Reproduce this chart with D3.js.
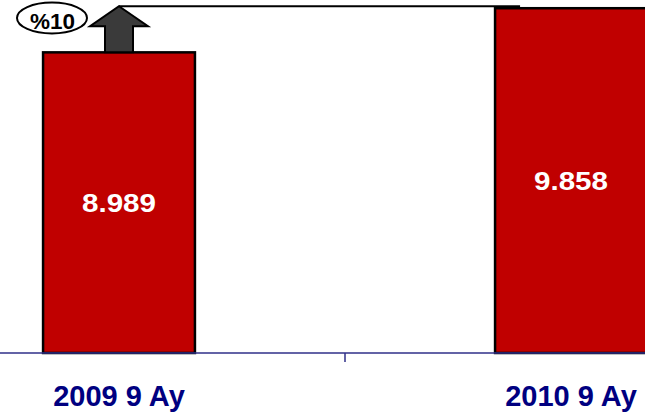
<!doctype html>
<html lang="tr">
<head>
<meta charset="UTF-8">
<title>2009 - 2010 9 Ay</title>
<script src="https://cdn.jsdelivr.net/npm/d3@7"></script>
<style>
  html, body { margin: 0; padding: 0; background: #fff; overflow: hidden; }
  svg { display: block; }
</style>
</head>
<body>
<script>
  var width = 645;
  var height = 417;

  // data
  var categories = ["2009 9 Ay", "2010 9 Ay"];
  var values = [8.989, 9.858];
  var valueLabels = ["8.989", "9.858"];

  var axisY = 353;

  var svg = d3.select("body").append("svg")
      .attr("width", width)
      .attr("height", height);

  // band scale runs past the right edge so the second bar gets clipped
  var x = d3.scaleBand()
      .domain(categories)
      .range([-107, 797])
      .paddingInner(0.664)
      .paddingOuter(0.332);

  var y = d3.scaleLinear()
      .domain([3.07, 10])
      .range([axisY, 1]);

  // bars
  svg.selectAll(".bar")
      .data(values)
      .enter().append("rect")
      .attr("class", "bar")
      .attr("x", function(d, i) { return x(categories[i]); })
      .attr("y", function(d) { return y(d); })
      .attr("width", x.bandwidth())
      .attr("height", function(d) { return axisY - y(d); })
      .attr("fill", "#C00000")
      .attr("stroke", "#000")
      .attr("stroke-width", 2.5);

  // value labels in the middle of each bar
  svg.selectAll(".val")
      .data(values)
      .enter().append("text")
      .attr("class", "val")
      .attr("x", function(d, i) { return x(categories[i]) + x.bandwidth() / 2; })
      .attr("y", function(d) { return (y(d) + axisY) / 2 + 9.5; })
      .attr("text-anchor", "middle")
      .attr("font-family", "Liberation Sans, Arial, sans-serif")
      .attr("font-weight", "bold")
      .attr("font-size", 26)
      .attr("textLength", 74)
      .attr("lengthAdjust", "spacingAndGlyphs")
      .attr("fill", "#fff")
      .text(function(d, i) { return valueLabels[i]; });

  // x axis line and the one tick between the categories
  svg.append("line")
      .attr("x1", 0).attr("x2", width)
      .attr("y1", axisY).attr("y2", axisY)
      .attr("stroke", "#2f2f88")
      .attr("stroke-width", 1.5);

  var mid = (x(categories[0]) + x.bandwidth() + x(categories[1])) / 2;
  svg.append("line")
      .attr("x1", mid).attr("x2", mid)
      .attr("y1", axisY).attr("y2", axisY + 9)
      .attr("stroke", "#2f2f88")
      .attr("stroke-width", 1.5);

  // category labels
  svg.selectAll(".cat")
      .data(categories)
      .enter().append("text")
      .attr("class", "cat")
      .attr("x", function(d) { return x(d) + x.bandwidth() / 2; })
      .attr("y", 406)
      .attr("text-anchor", "middle")
      .attr("font-family", "Liberation Sans, Arial, sans-serif")
      .attr("font-weight", "bold")
      .attr("font-size", 29)
      .attr("fill", "#000080")
      .text(function(d) { return d; });

  // growth arrow on top of the first bar
  var cx = x(categories[0]) + x.bandwidth() / 2;
  var tipY = y(values[1]) - 2;
  var baseY = y(values[0]);
  var headY = tipY + 20;
  var arrow = [
    [cx, tipY], [cx + 29, headY], [cx + 14, headY], [cx + 14, baseY],
    [cx - 14, baseY], [cx - 14, headY], [cx - 29, headY]
  ];

  svg.append("line")
      .attr("x1", cx).attr("x2", x(categories[1]) + 25)
      .attr("y1", tipY).attr("y2", tipY)
      .attr("stroke", "#000")
      .attr("stroke-width", 2);

  svg.append("path")
      .attr("d", d3.line()(arrow) + "Z")
      .attr("fill", "#3a3a3a")
      .attr("stroke", "#000")
      .attr("stroke-width", 2);

  var pct = Math.round((values[1] - values[0]) / values[0] * 100);

  svg.append("ellipse")
      .attr("cx", 52).attr("cy", 18)
      .attr("rx", 35).attr("ry", 15.5)
      .attr("fill", "#fff")
      .attr("stroke", "#000")
      .attr("stroke-width", 2);

  svg.append("text")
      .attr("x", 52.5).attr("y", 28.5)
      .attr("text-anchor", "middle")
      .attr("font-family", "Liberation Sans, Arial, sans-serif")
      .attr("font-weight", "bold")
      .attr("font-size", 22.5)
      .attr("fill", "#000")
      .text("%" + pct);
</script>
</body>
</html>
